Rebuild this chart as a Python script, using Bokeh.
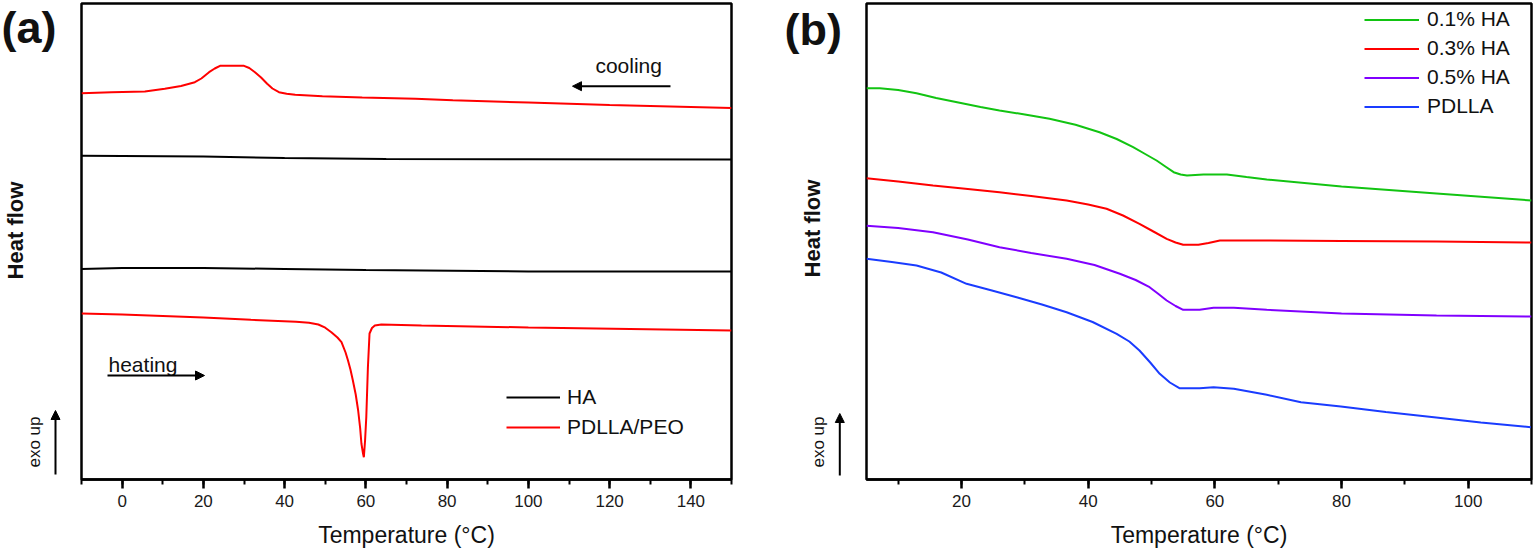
import numpy as np
from bokeh.plotting import figure
from bokeh.layouts import row
from bokeh.models import (Range1d, SingleIntervalTicker, Legend, LegendItem,
                          Label, Arrow, NormalHead)
from bokeh.embed import file_html
from bokeh.resources import INLINE

FONT = "Liberation Sans"
H = 553
TOP = 3      # frame top border (px)
BOTTOM = 74  # frame bottom border (px)

# ---------------- Panel (a) data ----------------
a_cool_peo_t = [-10, -2.6, 5.6, 10.5, 14.5, 17.9, 19.5, 21.4, 22.8, 24.1, 30, 31.3, 32.7,
                34.2, 35.7, 37, 38.6, 40.5, 42.6, 49.3, 59.1, 72.2, 81.4, 100, 120, 150]
a_cool_peo_v = [387.3, 388.3, 389, 391.7, 394.5, 398.3, 402, 408.3, 412, 414.7, 414.7, 412.5, 408.3,
                403, 396.7, 392, 388.3, 386.8, 385.7, 384.3, 383, 381.7, 380.3, 378, 375.5, 372.5]

a_cool_ha_t = [-10, 20, 40, 65, 100, 150]
a_cool_ha_v = [324.7, 324, 322.5, 321.5, 321.2, 321]

a_heat_ha_t = [-10, 0, 20, 40, 60, 100, 150]
a_heat_ha_v = [211.5, 212.5, 212.5, 211.5, 210.5, 209, 209]

a_heat_peo_t = [-10, 0, 20, 31.7, 42.8, 46, 48.3, 50, 51.5, 53, 54, 55, 55.6, 56.2, 56.8, 57.5,
                58.1, 58.6, 58.9, 59.3, 59.5, 59.8, 60.1, 60.5, 60.9, 61.5, 62.2, 63.8, 73.7, 100, 150]
a_heat_peo_v = [167, 166, 163, 160.7, 158.7, 157.8, 156, 152.8, 148.3, 143, 138.3, 128, 120, 111, 100, 86,
                70, 52, 37, 27, 23.3, 40, 63.3, 113.3, 147, 152.5, 155, 156, 155, 153, 150]

# ---------------- Panel (b) data ----------------
b_ha01_t = [5, 7.1, 10, 12.9, 16, 19.7, 23, 26, 30, 33.9, 38, 41.8, 44.5, 47.1, 49, 50.8,
            52.3, 53.5, 54.6, 55.6, 58.2, 61.9, 65, 68.2, 80, 95, 110]
b_ha01_v = [392.3, 392.3, 390.5, 387.3, 382.5, 377.7, 373.5, 370, 366, 361.7, 355.7, 348.3, 341.5, 333.3,
            326.5, 320, 313.5, 308.3, 306, 305, 306, 306, 303.5, 301, 294, 287, 280]

b_ha03_t = [5, 10, 15.5, 21, 26, 31, 36.6, 40, 42.9, 45.5, 48.1, 50.3, 52.4, 53.8, 55, 57.4,
            59, 60.8, 68.2, 80, 95, 110]
b_ha03_v = [302.3, 299, 295, 291.5, 288.3, 284.5, 280, 276, 271.7, 265, 256.7, 249, 241.7, 238, 235.7, 235.7,
            237.5, 240, 240, 239.5, 239, 238]

b_ha05_t = [5, 10, 15.5, 21, 26, 31, 36.6, 41, 45, 47.5, 49.7, 51, 52.4, 53.8, 55, 57.6, 59.8,
            63, 68.2, 80, 95, 110]
b_ha05_v = [254.7, 252.5, 248.3, 241, 233.3, 227.5, 221.7, 215.5, 206.7, 200.5, 193.3, 187, 180, 174.5,
            170.7, 170.7, 172.7, 172.7, 170.7, 167, 165, 164]

b_pdlla_t = [5, 9, 12.9, 16.8, 20.8, 24.8, 28.7, 32.7, 36.6, 40.7, 44.5, 46.5, 48.1, 49.8, 51.3,
             52.9, 54.4, 57.6, 59.8, 63, 68.2, 73.6, 79.9, 87, 94.6, 102, 109.9]
b_pdlla_v = [221.7, 218.5, 215, 208, 196.7, 190, 183.3, 176, 168.3, 158.5, 146.7, 139, 130, 118, 106.7,
             98, 92.3, 92.3, 93.3, 91.7, 85.7, 78.3, 74, 68.5, 63.3, 58, 53.3]

a_labels = ["HA", "PDLLA/PEO"]
b_labels = ["0.1% HA", "0.3% HA", "0.5% HA", "PDLLA"]

RED = "#ff0000"
GREEN = "#12c412"
PURPLE = "#8000ff"
BLUE = "#1a3cff"


def make_fig(width, bl, br, xr):
    p = figure(width=width, height=H, x_range=Range1d(*xr), y_range=Range1d(1, 477),
               output_backend="svg", toolbar_location=None,
               min_border_left=bl, min_border_right=br,
               min_border_top=TOP, min_border_bottom=BOTTOM)
    p.xgrid.visible = False
    p.ygrid.visible = False
    p.yaxis.visible = False
    p.outline_line_color = "black"
    p.outline_line_width = 2.5
    p.outline_line_alpha = 1
    p.background_fill_color = "white"
    p.border_fill_color = "white"
    ax = p.xaxis[0]
    ax.ticker = SingleIntervalTicker(interval=20, num_minor_ticks=2)
    ax.axis_line_width = 2.5
    ax.axis_line_color = "black"
    ax.major_tick_line_width = 2.5
    ax.major_tick_out = 9
    ax.major_tick_in = 0
    ax.minor_tick_line_width = 2
    ax.minor_tick_out = 5
    ax.minor_tick_in = 0
    ax.major_label_text_font = FONT
    ax.major_label_text_font_size = "17px"
    ax.major_label_text_color = "#1a1a1a"
    ax.major_label_standoff = 6
    ax.axis_label = "Temperature (°C)"
    ax.axis_label_text_font = FONT
    ax.axis_label_text_font_size = "23px"
    ax.axis_label_text_font_style = "normal"
    ax.axis_label_text_color = "#111111"
    ax.axis_label_standoff = 12
    return p


def make_strip(width):
    # frame spans the same vertical band as the plots; units = page pixels from bottom
    s = figure(width=width, height=H, x_range=Range1d(0, width), y_range=Range1d(BOTTOM, H - TOP),
               output_backend="svg", toolbar_location=None,
               x_axis_location=None, y_axis_location=None,
               min_border_left=0, min_border_right=0,
               min_border_top=TOP, min_border_bottom=BOTTOM)
    s.outline_line_color = None
    s.grid.visible = False
    s.background_fill_color = "white"
    s.border_fill_color = "white"
    return s


def text(p, x, y, txt, size, style="normal", angle=0.0, align="center"):
    p.add_layout(Label(x=x, y=y, text=txt, text_font=FONT, text_font_size=size,
                       text_font_style=style, angle=angle, text_align=align,
                       text_baseline="middle", text_color="#111111"))


def arrow(p, x0, y0, x1, y1):
    p.add_layout(Arrow(end=NormalHead(size=9, fill_color="black", line_color="black"),
                       x_start=x0, y_start=y0, x_end=x1, y_end=y1,
                       line_color="black", line_width=2))


# ---------------- left strip (a) ----------------
sa = make_strip(73)
text(sa, 1, H - 27, "(a)", "45px", style="bold", align="left")
text(sa, 15, H - 230, "Heat flow", "22px", style="bold", angle=np.pi / 2)
text(sa, 34, H - 441.5, "exo up", "17px", angle=np.pi / 2)
arrow(sa, 55, H - 474, 55, H - 410)

# ---------------- Figure (a) ----------------
pa = make_fig(705, 8, 47, (-10, 150))
r_peo_c = pa.line(a_cool_peo_t, a_cool_peo_v, line_color=RED, line_width=2)
r_ha_c = pa.line(a_cool_ha_t, a_cool_ha_v, line_color="black", line_width=2)
r_ha_h = pa.line(a_heat_ha_t, a_heat_ha_v, line_color="black", line_width=2)
r_peo_h = pa.line(a_heat_peo_t, a_heat_peo_v, line_color=RED, line_width=2)

leg_a = Legend(items=[LegendItem(label=a_labels[0], renderers=[r_ha_c]),
                      LegendItem(label=a_labels[1], renderers=[r_peo_h])],
               location=(425, 40), background_fill_alpha=0, border_line_alpha=0,
               padding=0, margin=0, spacing=6, glyph_width=54, glyph_height=22,
               label_height=22, label_standoff=7, label_text_font=FONT,
               label_text_font_size="21px", label_text_color="#111111")
pa.add_layout(leg_a)

text(pa, 116.5, 415, "cooling", "21px", align="left")
arrow(pa, 134.98, 394.3, 110.86, 394.3)
text(pa, -3.35, 116, "heating", "21px", align="left")
arrow(pa, -3.6, 105, 20.28, 105)

# ---------------- left strip (b) ----------------
sb = make_strip(86)
text(sb, 6, H - 29, "(b)", "45px", style="bold", align="left")
text(sb, 34, H - 228, "Heat flow", "22px", style="bold", angle=np.pi / 2)
text(sb, 40, H - 441.5, "exo up", "17px", angle=np.pi / 2)
arrow(sb, 61.3, H - 475, 61.3, H - 413)

# ---------------- Figure (b) ----------------
pb = make_fig(672, 2, 5, (5, 110))
r1 = pb.line(b_ha01_t, b_ha01_v, line_color=GREEN, line_width=2)
r2 = pb.line(b_ha03_t, b_ha03_v, line_color=RED, line_width=2)
r3 = pb.line(b_ha05_t, b_ha05_v, line_color=PURPLE, line_width=2)
r4 = pb.line(b_pdlla_t, b_pdlla_v, line_color=BLUE, line_width=2)

leg_b = Legend(items=[LegendItem(label=l, renderers=[r]) for l, r in zip(b_labels, [r1, r2, r3, r4])],
               location=(498, 361), background_fill_alpha=0, border_line_alpha=0,
               padding=0, margin=0, spacing=5, glyph_width=55, glyph_height=23,
               label_height=23, label_standoff=8, label_text_font=FONT,
               label_text_font_size="21px", label_text_color="#111111")
pb.add_layout(leg_b)

layout = row(sa, pa, sb, pb, spacing=0)
open("out.html", "w").write(file_html(layout, INLINE))
